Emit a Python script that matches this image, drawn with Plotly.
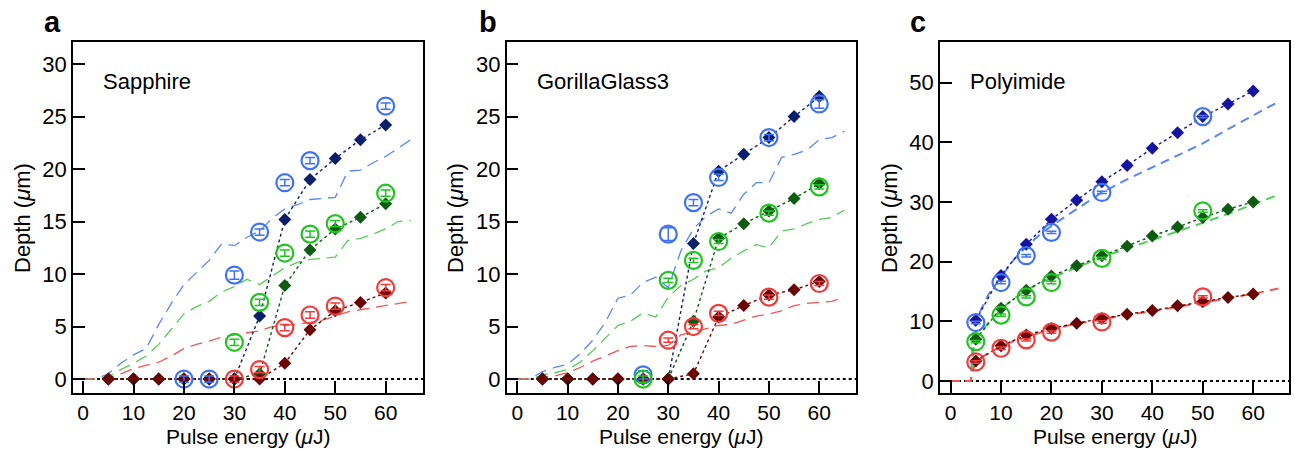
import plotly.graph_objects as go

W, H = 1295, 449

# ---------------- data ----------------
E_dia = [5, 10, 15, 20, 25, 30, 35, 40, 45, 50, 55, 60]

# Sapphire (a)
sa_blue_dia = [0, 0, 0, 0, 0, 0, 6.0, 15.2, 19.0, 21.0, 22.8, 24.2]
sa_green_dia = [0, 0, 0, 0, 0, 0, 0.5, 8.9, 12.3, 14.3, 15.4, 16.7]
sa_red_dia = [0, 0, 0, 0, 0, 0, 0, 1.5, 4.7, 6.5, 7.3, 8.2]
sa_blue_E = [20, 25, 30, 35, 40, 45, 60]
sa_blue_circ = [0, 0, 9.9, 14.0, 18.7, 20.8, 26.0]
sa_green_E = [30, 35, 40, 45, 50, 60]
sa_green_circ = [3.5, 7.3, 12.0, 13.8, 14.8, 17.7]
sa_red_E = [30, 35, 40, 45, 50, 60]
sa_red_circ = [0, 0.9, 4.9, 6.1, 6.95, 8.7]
sa_blue_err = [0.3, 0.3, 0.4, 0.3, 0.3, 0.3, 0.3]
sa_green_err = [0.3, 0.3, 0.3, 0.3, 0.3, 0.3]
sa_red_err = [0.3, 0.3, 0.3, 0.3, 0.3, 0.3]

E_sim = [0, 2.5, 5, 7.5, 10, 12.5, 15, 17.5, 20, 22.5, 25, 27.5, 30, 32.5, 35,
         37.5, 40, 42.5, 45, 47.5, 50, 52.5, 55, 57.5, 60, 62.5, 65]
sa_blue_sim = [0, 0, 0.5, 1.5, 2.3, 2.9, 5.2, 7.2, 9.0, 10.2, 11.3, 12.9, 12.7, 13.5, 14.1,
               15.3, 16.2, 16.6, 17.1, 17.2, 17.3, 19.8, 19.9, 20.6, 21.2, 22.0, 22.8]
sa_green_sim = [0, 0, 0.2, 0.9, 1.5, 2.2, 3.3, 4.8, 6.2, 6.9, 7.4, 8.3, 8.8, 9.5, 9.0,
                9.8, 10.6, 11.1, 11.4, 11.5, 11.6, 13.2, 13.4, 13.8, 14.3, 15.0, 15.1]
sa_red_sim = [0, 0, 0.1, 0.5, 1.0, 1.3, 1.6, 2.2, 2.9, 3.3, 3.6, 4.0, 4.2, 4.4, 4.6,
              5.0, 5.1, 5.2, 5.4, 5.6, 6.0, 6.4, 6.6, 6.8, 7.0, 7.2, 7.4]

# GorillaGlass3 (b)
gg_blue_dia = [0, 0, 0, 0, 0, 0, 12.9, 19.8, 21.4, 23.0, 25.0, 26.9]
gg_green_dia = [0, 0, 0, 0, 0, 0, 5.5, 13.4, 14.8, 16.0, 17.2, 18.6]
gg_red_dia = [0, 0, 0, 0, 0, 0, 0.5, 5.9, 7.0, 8.0, 8.5, 9.3]
gg_circ_E = [25, 30, 35, 40, 50, 60]
gg_blue_circ = [0.4, 13.8, 16.8, 19.2, 23.0, 26.2]
gg_green_circ = [0, 9.4, 11.3, 13.1, 15.8, 18.3]
gg_red_E = [30, 35, 40, 50, 60]
gg_red_circ = [3.7, 5.0, 6.25, 7.8, 9.1]
gg_blue_err = [0.4, 0.6, 0.3, 0.3, 0.3, 0.4]
gg_green_err = [0.3, 0.2, 0.2, 0.2, 0.2, 0.2]
gg_red_err = [0.2, 0.2, 0.2, 0.2, 0.2]
gg_blue_sim = [0, 0, 0.7, 1.1, 1.4, 2.4, 3.7, 5.4, 7.7, 8.0, 9.2, 9.7, 8.7, 12.2, 14.3,
               15.5, 16.2, 15.8, 17.6, 18.7, 18.7, 21.1, 21.4, 21.8, 22.8, 23.0, 23.6]
gg_green_sim = [0, 0, 0.4, 0.6, 0.9, 1.6, 2.7, 3.9, 5.1, 5.5, 6.3, 5.9, 7.8, 8.9, 9.5,
                10.3, 10.6, 11.5, 12.2, 12.8, 12.5, 14.1, 14.3, 14.8, 15.2, 15.4, 16.1]
gg_red_sim = [0, 0, 0.2, 0.3, 0.6, 1.1, 1.7, 2.2, 2.7, 3.1, 3.2, 3.1, 3.2, 4.2, 4.5,
              4.8, 5.1, 5.2, 5.6, 6.0, 6.2, 6.5, 7.0, 7.2, 7.3, 7.4, 7.8]

# Polyimide (c)
pi_blue_dia = [10.2, 17.7, 22.9, 27.1, 30.3, 33.4, 36.1, 39.0, 41.6, 44.3, 46.4, 48.6]
pi_green_dia = [7.0, 12.2, 15.2, 17.6, 19.3, 21.0, 22.6, 24.3, 25.8, 27.4, 28.8, 30.0]
pi_red_dia = [3.35, 5.9, 7.7, 8.8, 9.7, 10.5, 11.2, 11.8, 12.6, 13.3, 14.0, 14.6]
pi_circ_E = [5, 10, 15, 20, 30, 50]
pi_blue_circ = [9.8, 16.5, 21.0, 24.9, 31.6, 44.3]
pi_green_circ = [6.6, 11.05, 14.1, 16.5, 20.55, 28.5]
pi_red_circ = [3.2, 5.5, 6.9, 8.2, 9.9, 14.1]
pi_err = [0.2, 0.2, 0.2, 0.2, 0.2, 0.2]
pi_E_sim = [0, 4, 4.5, 5, 7.5, 10, 12.5, 15, 17.5, 20, 25, 30, 35, 40, 45, 50, 55, 60, 65]
pi_blue_sim = [0, 0, 8.0, 10.2, 14.5, 17.5, 20.3, 22.5, 24.4, 26.0, 28.8, 31.6, 33.8,
               35.8, 37.8, 39.8, 42.2, 44.5, 46.8]
pi_green_sim = [0, 0, 5.0, 7.0, 9.8, 12.0, 13.8, 15.2, 16.3, 17.3, 19.0, 20.8, 22.2,
                23.6, 25.0, 26.5, 28.0, 29.6, 31.2]
pi_red_sim = [0, 0, 2.0, 3.3, 4.7, 5.8, 6.7, 7.4, 8.1, 8.7, 9.6, 10.4, 11.1, 11.7,
              12.4, 13.1, 13.9, 14.6, 15.5]

panel_titles = ["Sapphire", "GorillaGlass3", "Polyimide"]
panel_letters = ["a", "b", "c"]

# ---------------- styles ----------------
C_BLUE = "#3f72f5"
C_GREEN = "#21c421"
C_RED = "#f23a3a"
D_BLUE = ["#0b1f6b", "#0b1f6b", "#1414a0"]
D_GREEN = "#0d5c12"
D_RED = "#6a0505"
S_BLUE = "#5b86f5"
S_GREEN = "#55cc55"
S_RED = "#f25555"
FONT = "Liberation Sans, Arial, Helvetica, sans-serif"

frames = [  # left, right, top, bottom in px
    (73, 423, 42, 393),
    (506.7, 856, 42, 393),
    (940, 1289, 42, 393),
]
xranges = [[-2.0, 67.4], [-2.1, 67.3], [-2.1, 67.1]]
yranges = [[-1.33, 32.1], [-1.33, 32.1], [-2.0, 56.8]]
ytickvals = [[0, 5, 10, 15, 20, 25, 30], [0, 5, 10, 15, 20, 25, 30], [0, 10, 20, 30, 40, 50]]

fig = go.Figure()


def ax_names(i):
    return ("x" if i == 0 else f"x{i+1}", "y" if i == 0 else f"y{i+1}")


panels = [
    dict(dia=[sa_blue_dia, sa_green_dia, sa_red_dia],
         circ=[(sa_blue_E, sa_blue_circ, sa_blue_err), (sa_green_E, sa_green_circ, sa_green_err),
               (sa_red_E, sa_red_circ, sa_red_err)],
         sim=(E_sim, [sa_blue_sim, sa_green_sim, sa_red_sim]), simdash="12px,7px", simw=1.3),
    dict(dia=[gg_blue_dia, gg_green_dia, gg_red_dia],
         circ=[(gg_circ_E, gg_blue_circ, gg_blue_err), (gg_circ_E, gg_green_circ, gg_green_err),
               (gg_red_E, gg_red_circ, gg_red_err)],
         sim=(E_sim, [gg_blue_sim, gg_green_sim, gg_red_sim]), simdash="12px,7px", simw=1.3),
    dict(dia=[pi_blue_dia, pi_green_dia, pi_red_dia],
         circ=[(pi_circ_E, pi_blue_circ, pi_err), (pi_circ_E, pi_green_circ, pi_err),
               (pi_circ_E, pi_red_circ, pi_err)],
         sim=(pi_E_sim, [pi_blue_sim, pi_green_sim, pi_red_sim]), simdash="9px,6px", simw=2),
]

for i, p in enumerate(panels):
    xa, ya = ax_names(i)
    sx, sys_ = p["sim"]
    for ys, col in zip(sys_, [S_BLUE, S_GREEN, S_RED]):
        fig.add_trace(go.Scatter(x=sx, y=ys, mode="lines", xaxis=xa, yaxis=ya,
                                 line=dict(color=col, width=p["simw"], dash=p["simdash"]),
                                 showlegend=False, hoverinfo="skip"))
    for ys, col in zip(p["dia"], [D_BLUE[i], D_GREEN, D_RED]):
        fig.add_trace(go.Scatter(x=E_dia, y=ys, mode="lines+markers", xaxis=xa, yaxis=ya,
                                 line=dict(color=col, width=1.4, dash="dot"),
                                 marker=dict(symbol="diamond", size=10, color=col),
                                 showlegend=False))
    for (ex, ys, er), col in zip(p["circ"], [C_BLUE, C_GREEN, C_RED]):
        fig.add_trace(go.Scatter(x=ex, y=ys, mode="markers", xaxis=xa, yaxis=ya,
                                 marker=dict(symbol="circle-open", size=17, color=col,
                                             line=dict(width=2.2, color=col)),
                                 error_y=dict(type="data", array=er, color=col, thickness=1.5, width=5),
                                 showlegend=False))

layout = dict(width=W, height=H, margin=dict(l=0, r=0, t=0, b=0),
              paper_bgcolor="white", plot_bgcolor="white",
              font=dict(family=FONT, color="black"), annotations=[], shapes=[])

for i, (l, r, t, b) in enumerate(frames):
    xk = "xaxis" if i == 0 else f"xaxis{i+1}"
    yk = "yaxis" if i == 0 else f"yaxis{i+1}"
    xa, ya = ax_names(i)
    layout[xk] = dict(domain=[l / W, r / W], range=xranges[i], anchor=ya,
                      tickvals=[0, 10, 20, 30, 40, 50, 60], ticks="inside", ticklen=12,
                      tickwidth=1.5, tickcolor="black", showline=True, mirror=True,
                      linecolor="black", linewidth=1.5, showgrid=False, zeroline=False,
                      tickfont=dict(size=21, family=FONT, color="black"))
    layout[yk] = dict(domain=[1 - b / H, 1 - t / H], range=yranges[i], anchor=xa,
                      tickvals=ytickvals[i], ticks="inside", ticklen=12,
                      tickwidth=1.5, tickcolor="black", showline=True, mirror=True,
                      linecolor="black", linewidth=1.5, showgrid=False, zeroline=False,
                      tickfont=dict(size=22, family=FONT, color="black"))
    # zero reference line
    layout["shapes"].append(dict(type="line", xref=f"{xa} domain", yref=ya, x0=0, x1=1, y0=0, y1=0,
                                 line=dict(color="black", width=2, dash="dot"), layer="below"))
    # panel title text
    layout["annotations"].append(dict(text=panel_titles[i], xref="paper", yref="paper",
                                      x=(l + 28) / W, y=1 - 82 / H, xanchor="left", yanchor="middle",
                                      showarrow=False, font=dict(size=22, family=FONT)))
    # panel letter
    lx = [52, 488, 918][i]
    layout["annotations"].append(dict(text=f"<b>{panel_letters[i]}</b>", xref="paper", yref="paper",
                                      x=lx / W, y=1 - 22 / H, xanchor="center", yanchor="middle",
                                      showarrow=False, font=dict(size=29, family=FONT)))
    # axis titles
    layout["annotations"].append(dict(text="Pulse energy (<i>μ</i>J)", xref="paper", yref="paper",
                                      x=(l + r) / 2 / W, y=1 - 436 / H, xanchor="center", yanchor="middle",
                                      showarrow=False, font=dict(size=21, family=FONT)))
    ytx = [22, 455, 889][i]
    layout["annotations"].append(dict(text="Depth (<i>μ</i>m)", xref="paper", yref="paper",
                                      x=ytx / W, y=1 - 218 / H, xanchor="center", yanchor="middle",
                                      textangle=-90, showarrow=False, font=dict(size=22, family=FONT)))

fig.update_layout(**layout)
fig.write_html("out.html")
